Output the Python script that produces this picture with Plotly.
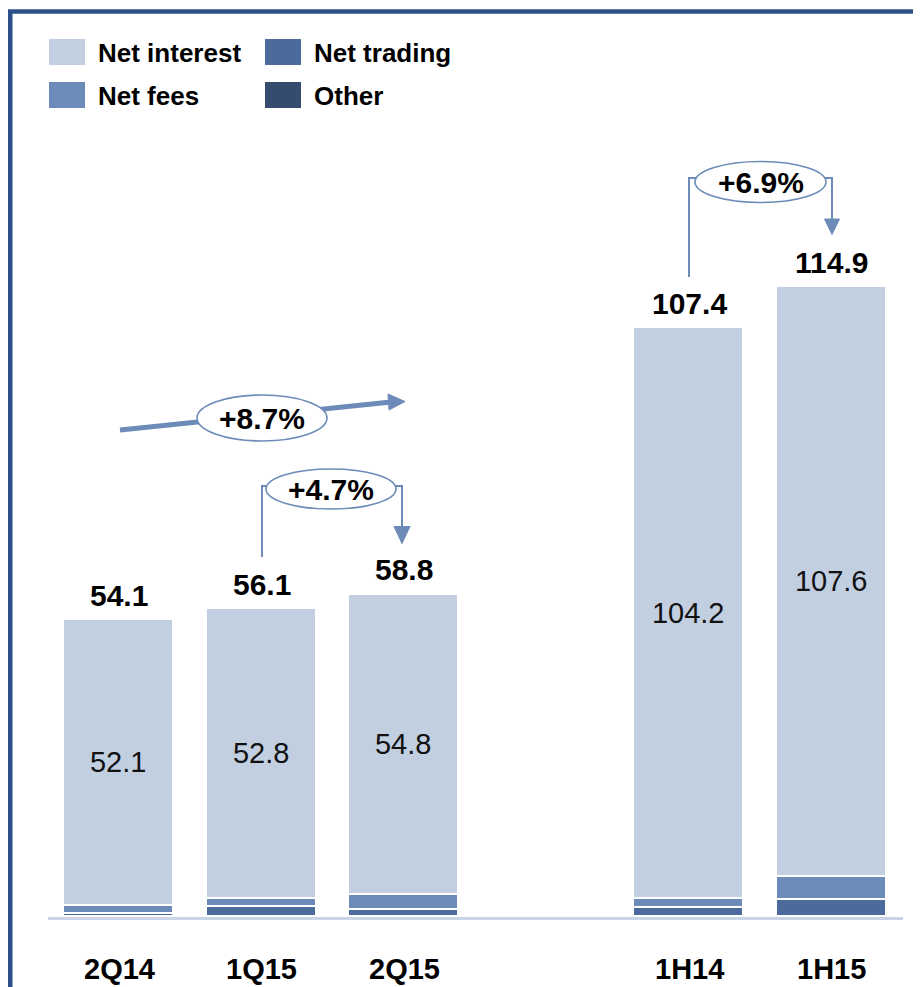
import plotly.graph_objects as go

# ---------------- data ----------------
categories = ["2Q14", "1Q15", "2Q15", "1H14", "1H15"]
positions = [0, 1, 2, 4, 5]          # empty slot between quarters and half-years
net_interest = [52.1, 52.8, 54.8, 104.2, 107.6]
net_fees = [1.4, 1.4, 2.7, 1.6, 4.2]
net_trading = [0.6, 1.9, 1.3, 1.6, 3.1]
other = [0.0, 0.0, 0.0, 0.0, 0.0]
totals = [54.1, 56.1, 58.8, 107.4, 114.9]
growth_labels = ["+8.7%", "+4.7%", "+6.9%"]

colors = {
    "Net interest": "#C2CFE1",
    "Net fees": "#6C8BB8",
    "Net trading": "#4C6A9C",
    "Other": "#364C6E",
}
accent = "#6C8BB8"
frame = "#2D5088"
FONT = "Liberation Sans, Arial, sans-serif"

# ---------------- geometry helpers (decoration only) ----------------
OFF = 8                      # page body margin offset
W, H = 921 - OFF, 987 - OFF
# plot area in page pixels: x 48..903, y 18..917
ML, MR, MT, MB = 48 - OFF, 921 - 903, 18 - OFF, 987 - 917
X0, X1 = -0.5, 5.5
Y0, Y1 = 0, 164
pw, ph = W - ML - MR, H - MT - MB


def dx(px):
    return X0 + (px - OFF - ML) / pw * (X1 - X0)


def dy(py):
    return Y0 + (H - MB - (py - OFF)) / ph * (Y1 - Y0)


def px_(px):
    return (px - OFF - ML) / pw


def py_(py):
    return (H - MB - (py - OFF)) / ph


fig = go.Figure()

series = [("Other", other), ("Net trading", net_trading),
          ("Net fees", net_fees), ("Net interest", net_interest)]
for name, vals in series:
    is_int = name == "Net interest"
    fig.add_trace(go.Bar(
        x=positions, y=vals, name=name, width=0.77,
        marker=dict(color=colors[name],
                    line=dict(color="white", width=0 if name == "Other" else 1.6)),
        text=[f"{v:.1f}" for v in vals] if is_int else None,
        textposition="inside" if is_int else "none",
        insidetextanchor="middle",
        textangle=0,
        constraintext="none",
        textfont=dict(family=FONT, size=29, color="#111111"),
        showlegend=False, hoverinfo="skip",
    ))

annotations = []
# totals above bars
for p, t in zip(positions, totals):
    annotations.append(dict(x=p, y=t, text=f"<b>{t:.1f}</b>", showarrow=False,
                            yanchor="middle", yshift=25,
                            font=dict(family=FONT, size=30, color="#000000")))
# category labels
for p, c in zip(positions, categories):
    annotations.append(dict(x=p, y=0, text=f"<b>{c}</b>", showarrow=False,
                            yanchor="middle", yshift=-52,
                            font=dict(family=FONT, size=29, color="#000000")))

shapes = []
# frame (left and top border)
shapes.append(dict(type="line", xref="paper", yref="paper",
                   x0=px_(10), y0=py_(11.5), x1=px_(10), y1=py_(1010),
                   line=dict(color=frame, width=5)))
shapes.append(dict(type="line", xref="paper", yref="paper",
                   x0=px_(8), y0=py_(11.5), x1=px_(940), y1=py_(11.5),
                   line=dict(color=frame, width=4.5)))

# legend (manual, 2 columns)
legend_items = [("Net interest", 49, 39), ("Net trading", 265, 39),
                ("Net fees", 49, 82), ("Other", 265, 82)]
for name, lx, ly in legend_items:
    shapes.append(dict(type="rect", xref="paper", yref="paper",
                       x0=px_(lx), x1=px_(lx + 36), y0=py_(ly), y1=py_(ly + 26),
                       fillcolor=colors[name], line=dict(width=0)))
    annotations.append(dict(xref="paper", yref="paper", x=px_(lx + 47), y=py_(ly + 14),
                            text=f"<b>{name}</b>", showarrow=False,
                            xanchor="left", yanchor="middle",
                            font=dict(family=FONT, size=26, color="#000000")))


def line(x0, y0, x1, y1, w):
    shapes.append(dict(type="line", xref="x", yref="y",
                       x0=dx(x0), y0=dy(y0), x1=dx(x1), y1=dy(y1),
                       line=dict(color=accent, width=w)))


def tri(pts):
    path = "M " + " L ".join(f"{dx(a)},{dy(b)}" for a, b in pts) + " Z"
    shapes.append(dict(type="path", xref="x", yref="y", path=path,
                       fillcolor=accent, line=dict(color=accent, width=1)))


def ellipse(cx, cy, rx, ry, label):
    shapes.append(dict(type="circle", xref="x", yref="y",
                       x0=dx(cx - rx), x1=dx(cx + rx), y0=dy(cy + ry), y1=dy(cy - ry),
                       fillcolor="white", line=dict(color=accent, width=1.6)))
    annotations.append(dict(x=dx(cx), y=dy(cy), text=f"<b>{label}</b>", showarrow=False,
                            xanchor="center", yanchor="middle",
                            font=dict(family=FONT, size=30, color="#000000")))


# +8.7% trend arrow
line(120, 430, 391, 402, 5)
tri([(405, 401.5), (388, 394), (389, 410)])
ellipse(262, 418, 65, 23, growth_labels[0])

# +4.7% bracket 1Q15 -> 2Q15
line(262, 557, 262, 486, 2)
line(261, 486, 270, 486, 2)
line(393, 486, 403, 486, 2)
line(402, 485, 402, 528, 2)
tri([(402, 543.5), (394, 526.5), (410, 526.5)])
ellipse(331, 489, 65, 20, growth_labels[1])

# +6.9% bracket 1H14 -> 1H15
line(689, 277, 689, 178, 2)
line(688, 178, 698, 178, 2)
line(822, 178, 833, 178, 2)
line(832, 177, 832, 220, 2)
tri([(832, 234.5), (824.5, 219), (839.5, 219)])
ellipse(760.5, 182, 65.5, 20.5, growth_labels[2])

fig.update_layout(
    width=W, height=H,
    margin=dict(l=ML, r=MR, t=MT, b=MB),
    paper_bgcolor="white", plot_bgcolor="white",
    barmode="stack", bargap=0,
    showlegend=False,
    font=dict(family=FONT),
    xaxis=dict(range=[X0, X1], showgrid=False, zeroline=False,
               showline=True, linecolor="#C9D4E6", linewidth=2.5,
               showticklabels=False, ticks="", fixedrange=True),
    yaxis=dict(range=[Y0, Y1], visible=False, fixedrange=True),
    shapes=shapes, annotations=annotations,
)

fig.write_html("out.html")
